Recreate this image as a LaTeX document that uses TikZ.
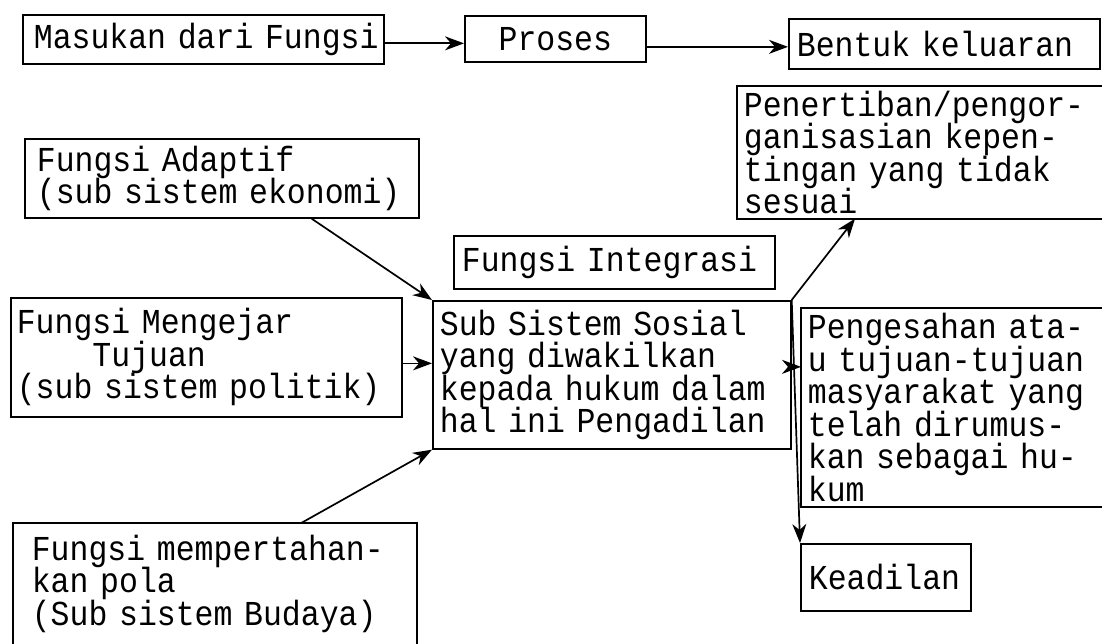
\documentclass[tikz,border=0pt]{standalone}
\usepackage{fontspec}
\setmainfont{Liberation Mono}[FakeStretch=0.9]
\usetikzlibrary{arrows.meta,calc}
\newcommand{\ml}[1]{\mbox{#1}}
\newcommand{\dotfont}{\fontsize{35}{32.5}\selectfont\lineskiplimit=-100pt\relax}
\begin{document}
\begin{tikzpicture}[x=1pt,y=-1pt,
  box/.style={draw, line width=1.7pt, anchor=north west, align=left, inner ysep=0pt,
    font=\dotfont},
  openbox/.style={box, draw=none},
  edge3/.style={line width=1.7pt},
  arr/.style={line width=1.7pt, -{Stealth[length=19pt,width=14pt,inset=6pt]}}]
\fill[white] (0,0) rectangle (1102,644);
\useasboundingbox (0,0) rectangle (1102,644);

% top row
\node[box, minimum width=361pt, minimum height=49pt, inner xsep=11pt, text width=339pt]
  (masukan) at (22,14) {\ml{Masukan dari Fungsi}};
\node[box, align=center, minimum width=181pt, minimum height=46pt, inner xsep=10pt, text width=161pt]
  (proses) at (464,15) {\ml{Proses}};
\node[box, minimum width=311pt, minimum height=50pt, inner xsep=8pt, text width=295pt]
  (bentuk) at (788,18) {\ml{Bentuk keluaran}};

% right column
\node[openbox, minimum width=365pt, minimum height=131pt, inner xsep=6pt, text width=353pt]
  (penertiban) at (737,86) {\ml{Penertiban/pengor-}\\\ml{ganisasian kepen-}\\\ml{tingan yang tidak}\\\ml{sesuai}};
\draw[edge3] (penertiban.north east) -- (penertiban.north west) -- (penertiban.south west) -- (penertiban.south east);

\node[openbox, minimum width=301pt, minimum height=197pt, inner xsep=6pt, text width=289pt]
  (peng) at (801,308) {\ml{Pengesahan ata-}\\\ml{u tujuan-tujuan}\\\ml{masyarakat yang}\\\ml{telah dirumus-}\\\ml{kan sebagai hu-}\\\ml{kum}};
\draw[edge3] (peng.north east) -- (peng.north west) -- (peng.south west) -- (peng.south east);

\node[box, minimum width=170pt, minimum height=67pt, inner xsep=8pt, text width=154pt]
  (keadilan) at (800,543) {\ml{Keadilan}};

% centre
\node[box, minimum width=321pt, minimum height=53pt, inner xsep=8pt, text width=305pt]
  (integrasi) at (453,235) {\ml{Fungsi Integrasi}};
\node[box, minimum width=358pt, minimum height=148pt, inner xsep=7pt, text width=344pt]
  (sub) at (432,300) {\ml{Sub Sistem Sosial}\\\ml{yang diwakilkan}\\\ml{kepada hukum dalam}\\\ml{hal ini Pengadilan}};

% left column
\node[box, minimum width=394pt, minimum height=79pt, inner xsep=12pt, text width=370pt]
  (adaptif) at (24,138) {\ml{Fungsi Adaptif}\\\ml{(sub sistem ekonomi)}};
\node[box, minimum width=391pt, minimum height=119pt, inner xsep=6pt, text width=379pt]
  (mengejar) at (10,297) {\ml{Fungsi Mengejar}\\\ml{\hphantom{xxxx}Tujuan}\\\ml{(sub sistem politik)}};
\node[openbox, minimum width=402pt, minimum height=120pt, inner xsep=18pt, text width=366pt]
  (pertahan) at (13,523) {\ml{Fungsi mempertahan-}\\\ml{kan pola}\\\ml{(Sub sistem Budaya)}};
\draw[edge3] (pertahan.south west) -- (pertahan.north west) -- (pertahan.north east) -- (pertahan.south east);

% connectors
\draw[arr] ([yshift=-4pt]masukan.east) -- ([yshift=-4pt]masukan.east -| proses.west);
\draw[arr] ([yshift=-8pt]proses.east) -- ([yshift=-8pt]proses.east -| bentuk.west);
\draw[arr] ($(adaptif.south west)!0.727!(adaptif.south east)$) -- (sub.north west);
\draw[arr] ([yshift=-6pt]mengejar.east) -- ([yshift=-6pt]mengejar.east -| sub.west);
\draw[arr] ($(pertahan.north west)!0.714!(pertahan.north east)$) -- (sub.south west);
\draw[arr] (sub.north east) -- ([xshift=118pt]penertiban.south west);
\draw[arr] ([yshift=8pt]sub.east) -- ([yshift=8pt]sub.east -| peng.west);
\draw[arr] (sub.north east) -- (keadilan.north west);
\end{tikzpicture}
\end{document}
